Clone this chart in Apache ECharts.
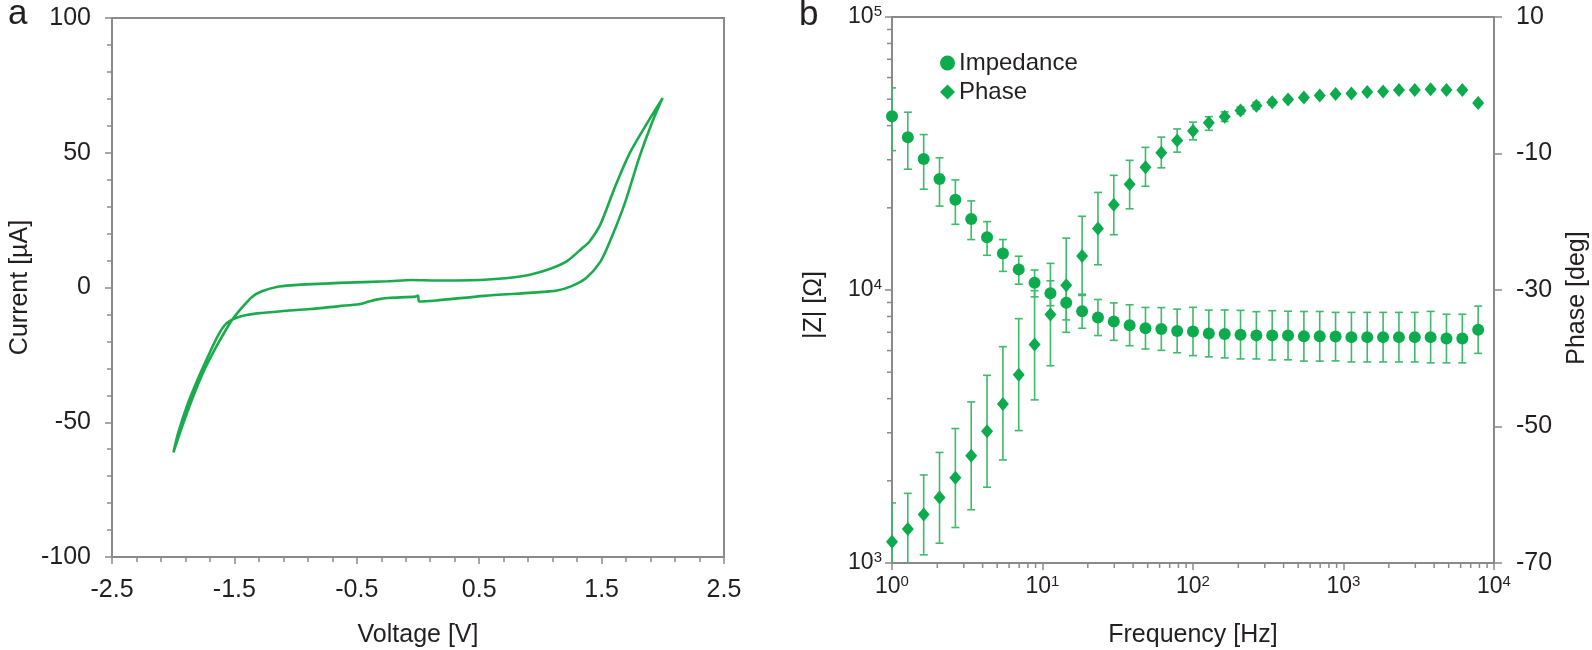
<!DOCTYPE html>
<html>
<head>
<meta charset="utf-8">
<script src="https://cdn.jsdelivr.net/npm/echarts@6/dist/echarts.min.js"></script>
<style>html,body{margin:0;padding:0;background:#fff}#c{width:1592px;height:650px}</style>
</head>
<body>
<div id="c"></div>
<script>
// ---- Panel a: cyclic voltammogram ----
const cvVoltage = [2.0, 1.887, 1.729, 1.611, 1.492, 1.40, 1.334, 1.215, 1.057, 0.86, 0.543, 0.148, -0.049, -0.247, -0.642, -1.038, -1.156, -1.275, -1.354, -1.433, -1.512, -1.58, -1.66, -1.75, -1.85, -1.93, -1.998,
  -1.96, -1.88, -1.79, -1.70, -1.63, -1.58, -1.53, -1.47, -1.40, -1.314, -1.117, -0.879, -0.642, -0.484, -0.40, -0.33, -0.247, -0.02, 0.0, 0.01, 0.148, 0.543, 0.939, 1.136, 1.255, 1.374, 1.492, 1.571, 1.69, 1.808, 1.907, 1.998];
const cvCurrent = [70.3, 62.1, 49.8, 37.5, 23.6, 17.0, 14.3, 9.7, 6.6, 4.3, 2.9, 2.6, 2.8, 2.3, 1.7, 0.8, 0.2, -1.4, -3.4, -7.2, -11.6, -16.5, -23, -31, -42, -52, -61.2,
  -54, -43, -33, -24, -17.5, -14, -12.2, -11.0, -10.2, -9.6, -8.8, -8.0, -6.9, -6.2, -5.2, -4.4, -3.9, -3.4, -3.0, -5.2, -4.8, -3.1, -1.9, -1.1, 0.5, 3.5, 9.7, 17.4, 31.3, 48.3, 60.6, 70.3];

// ---- Panel b: impedance spectroscopy ----
const frequency = [1, 1.274, 1.624, 2.069, 2.637, 3.36, 4.281, 5.456, 6.952, 8.859, 11.29, 14.38, 18.33, 23.36, 29.76, 37.93, 48.33, 61.58, 78.48, 100, 127.4, 162.4, 206.9, 263.7, 336, 428.1, 545.6, 695.2, 885.9, 1129, 1438, 1833, 2336, 2976, 3793, 4833, 6158, 7848];
const impedance = [43300, 36300, 30200, 25500, 21400, 18200, 15600, 13600, 11900, 10640, 9730, 8980, 8360, 7930, 7660, 7430, 7240, 7200, 7080, 7050, 6930, 6900, 6860, 6820, 6820, 6810, 6770, 6770, 6750, 6720, 6720, 6720, 6720, 6720, 6720, 6640, 6640, 7150];
const impedanceLow = [32400, 27700, 23400, 20300, 17400, 15300, 13400, 11700, 10500, 9440, 8760, 7770, 7240, 6810, 6540, 6250, 6080, 6010, 5890, 5750, 5690, 5640, 5590, 5590, 5540, 5550, 5490, 5490, 5500, 5450, 5450, 5450, 5450, 5450, 5410, 5410, 5410, 5860];
const impedanceHigh = [55000, 44800, 37100, 30500, 25300, 21200, 17800, 15300, 13300, 11840, 10810, 10360, 9650, 9230, 8970, 8830, 8630, 8620, 8510, 8640, 8440, 8450, 8420, 8330, 8400, 8360, 8340, 8340, 8280, 8280, 8280, 8280, 8280, 8280, 8350, 8150, 8150, 8730];
const phase = [-66.9, -65.0, -62.9, -60.4, -57.5, -54.3, -50.7, -46.7, -42.4, -38.0, -33.6, -29.3, -25.0, -21.0, -17.5, -14.5, -12.0, -9.9, -8.1, -6.7, -5.5, -4.6, -3.7, -3.0, -2.5, -2.1, -1.8, -1.5, -1.3, -1.2, -1.0, -0.9, -0.7, -0.7, -0.6, -0.7, -0.7, -2.6];
const phaseLow = [-72.6, -70.2, -68.8, -67.1, -64.8, -62.2, -58.9, -54.9, -50.6, -46.1, -41.1, -36.2, -30.8, -26.3, -21.9, -18.1, -14.8, -12.1, -9.8, -8.0, -6.6, -5.3, -4.2, -3.5, -2.9, -2.4, -2.1, -1.8, -1.5, -1.4, -1.2, -1.1, -0.9, -0.9, -0.8, -0.9, -0.9, -2.9];
const phaseHigh = [-61.2, -59.8, -57.1, -53.8, -50.3, -46.4, -42.5, -38.3, -34.2, -30.1, -26.1, -22.4, -19.2, -15.7, -13.2, -11.0, -9.1, -7.6, -6.4, -5.4, -4.6, -3.9, -3.2, -2.5, -2.1, -1.8, -1.5, -1.2, -1.1, -1.0, -0.8, -0.7, -0.5, -0.5, -0.4, -0.5, -0.5, -2.3];

// minor tick values of the log axes
const freqMinorTicks = [2, 3, 4, 5, 6, 7, 8, 9, 20, 30, 40, 50, 60, 70, 80, 90, 200, 300, 400, 500, 600, 700, 800, 900, 2000, 3000, 4000, 5000, 6000, 7000, 8000, 9000];
const zMinorTicks = [2000, 3000, 4000, 5000, 6000, 7000, 8000, 9000, 20000, 30000, 40000, 50000, 60000, 70000, 80000, 90000];

const FONT = '"Liberation Sans", Arial, Helvetica, sans-serif';
const TXT = '#231f20';
const AX = '#8a8a8a';
const GREEN = '#0bab4e';
const BAR = '#3dba6c';
const FS = 25;   // axis titles
const TS = 25;   // tick labels

const chart = echarts.init(document.getElementById('c'), null, {renderer: 'canvas'});

const supFmt = function (v) {
  const e = Math.round(Math.log10(v));
  return '{b|10}{s|' + e + '}';
};
const supRich = {
  b: {fontSize: 23, fontFamily: FONT, color: TXT, lineHeight: 26},
  s: {fontSize: 15, fontFamily: FONT, color: TXT, verticalAlign: 'top', lineHeight: 26, padding: [0, 0, 10, 0]}
};

const axisLine = {show: true, onZero: false, lineStyle: {color: AX, width: 2}};
const axisTick = {show: true, inside: false, length: 7, lineStyle: {color: AX, width: 1.5}};
const minorTick = {show: true, splitNumber: 5, length: 5, lineStyle: {color: AX, width: 1.5}};

function errBar(params, api) {
  const x = api.value(0);
  const p1 = api.coord([x, api.value(1)]);
  const p2 = api.coord([x, api.value(2)]);
  const w = 4;
  const st = {stroke: BAR, lineWidth: 1.6};
  return {
    type: 'group',
    children: [
      {type: 'line', shape: {x1: p1[0], y1: p1[1], x2: p2[0], y2: p2[1]}, style: st},
      {type: 'line', shape: {x1: p1[0] - w, y1: p1[1], x2: p1[0] + w, y2: p1[1]}, style: st},
      {type: 'line', shape: {x1: p2[0] - w, y1: p2[1], x2: p2[0] + w, y2: p2[1]}, style: st}
    ]
  };
}

const option = {
  animation: false,
  backgroundColor: '#fff',
  textStyle: {fontFamily: FONT},
  title: [
    {text: 'a', left: 8, top: -3, padding: 0, textStyle: {fontSize: 35, fontWeight: 'normal', color: TXT, fontFamily: FONT}},
    {text: 'b', left: 799, top: -2, padding: 0, textStyle: {fontSize: 35, fontWeight: 'normal', color: TXT, fontFamily: FONT}}
  ],
  legend: {
    orient: 'vertical', left: 935, top: 46, itemGap: 5, itemWidth: 15, itemHeight: 15,
    textStyle: {fontSize: 24, color: TXT, fontFamily: FONT, padding: [0, 0, 0, -1]},
    data: [{name: 'Impedance', icon: 'circle'}, {name: 'Phase', icon: 'diamond'}]
  },
  grid: [
    {left: 112, top: 18, width: 612, height: 539, show: true, borderColor: AX, borderWidth: 2, containLabel: false, outerBoundsMode: 'none'},
    {left: 892, top: 17, width: 602, height: 546, show: true, borderColor: AX, borderWidth: 2, containLabel: false, outerBoundsMode: 'none'}
  ],
  xAxis: [
    {
      gridIndex: 0, type: 'value', min: -2.5, max: 2.5, interval: 1,
      name: 'Voltage [V]', nameLocation: 'middle', nameGap: 66,
      nameTextStyle: {fontSize: FS, color: TXT, fontFamily: FONT},
      axisLine: axisLine, axisTick: axisTick, minorTick: minorTick,
      splitLine: {show: false}, minorSplitLine: {show: false},
      axisLabel: {fontSize: TS, color: TXT, fontFamily: FONT, margin: 21, formatter: v => v.toFixed(1)}
    },
    {
      gridIndex: 1, type: 'log', logBase: 10, min: 1, max: 10000, splitNumber: 4,
      name: 'Frequency [Hz]', nameLocation: 'middle', nameGap: 60,
      nameTextStyle: {fontSize: FS, color: TXT, fontFamily: FONT},
      axisLine: axisLine, axisTick: axisTick,
      splitLine: {show: false},
      axisLabel: {margin: 11, formatter: supFmt, rich: supRich}
    }
  ],
  yAxis: [
    {
      gridIndex: 0, type: 'value', min: -100, max: 100, interval: 50,
      name: 'Current [µA]', nameLocation: 'middle', nameGap: 79, nameRotate: 90,
      nameTextStyle: {fontSize: FS, color: TXT, fontFamily: FONT},
      axisLine: axisLine, axisTick: axisTick, minorTick: minorTick,
      splitLine: {show: false}, minorSplitLine: {show: false},
      axisLabel: {fontSize: TS, color: TXT, fontFamily: FONT, margin: 21}
    },
    {
      gridIndex: 1, type: 'log', logBase: 10, min: 1000, max: 100000, splitNumber: 2,
      name: '|Z| [Ω]', nameLocation: 'middle', nameGap: 65, nameRotate: 90,
      nameTextStyle: {fontSize: FS, color: TXT, fontFamily: FONT, padding: [0, 30, 0, 0]},
      axisLine: axisLine, axisTick: axisTick,
      splitLine: {show: false},
      axisLabel: {margin: 10, formatter: supFmt, rich: supRich}
    },
    {
      gridIndex: 1, type: 'value', position: 'right', min: -70, max: 10, interval: 20,
      name: 'Phase [deg]', nameLocation: 'middle', nameGap: 71, nameRotate: 90,
      nameTextStyle: {fontSize: FS, color: TXT, fontFamily: FONT, padding: [0, 16, 0, 0]},
      axisLine: axisLine, axisTick: {show: true, inside: false, length: 8, lineStyle: {color: AX, width: 1.5}},
      splitLine: {show: false},
      axisLabel: {fontSize: TS, color: TXT, fontFamily: FONT, margin: 22}
    }
  ],
  series: [
    {
      type: 'line', xAxisIndex: 0, yAxisIndex: 0, showSymbol: false, smooth: 0.25,
      lineStyle: {color: '#1aac4c', width: 2.6}, silent: true,
      data: cvVoltage.map((v, i) => [v, cvCurrent[i]])
    },
    {
      type: 'custom', name: 'ImpedanceErr', xAxisIndex: 1, yAxisIndex: 1, clip: true, silent: true,
      renderItem: errBar, encode: {x: 0, y: [1, 2]},
      data: frequency.map((f, i) => [f, impedanceLow[i], impedanceHigh[i]])
    },
    {
      type: 'custom', name: 'PhaseErr', xAxisIndex: 1, yAxisIndex: 2, clip: true, silent: true,
      renderItem: errBar, encode: {x: 0, y: [1, 2]},
      data: frequency.map((f, i) => [f, phaseLow[i], phaseHigh[i]])
    },
    {
      type: 'scatter', name: 'Impedance', xAxisIndex: 1, yAxisIndex: 1, symbol: 'circle', symbolSize: 12,
      itemStyle: {color: GREEN, opacity: 1}, silent: true, z: 5,
      data: frequency.map((f, i) => [f, impedance[i]])
    },
    {
      type: 'scatter', name: 'Phase', xAxisIndex: 1, yAxisIndex: 2, symbol: 'diamond', symbolSize: [12, 14],
      itemStyle: {color: GREEN, opacity: 1}, silent: true, z: 5,
      data: frequency.map((f, i) => [f, phase[i]])
    },
    {
      type: 'custom', name: 'freqMinor', xAxisIndex: 1, yAxisIndex: 1, clip: false, silent: true,
      renderItem: function (params, api) {
        const p = api.coord([api.value(0), 1000]);
        return {type: 'line', shape: {x1: p[0], y1: p[1], x2: p[0], y2: p[1] + 5}, style: {stroke: AX, lineWidth: 1.5}};
      },
      encode: {x: 0, y: 1},
      data: freqMinorTicks.map(v => [v, 1000])
    },
    {
      type: 'custom', name: 'zMinor', xAxisIndex: 1, yAxisIndex: 1, clip: false, silent: true,
      renderItem: function (params, api) {
        const p = api.coord([1, api.value(1)]);
        return {type: 'line', shape: {x1: p[0], y1: p[1], x2: p[0] - 5, y2: p[1]}, style: {stroke: AX, lineWidth: 1.5}};
      },
      encode: {x: 0, y: 1},
      data: zMinorTicks.map(v => [1, v])
    }
  ]
};
chart.setOption(option);
</script>
</body>
</html>
